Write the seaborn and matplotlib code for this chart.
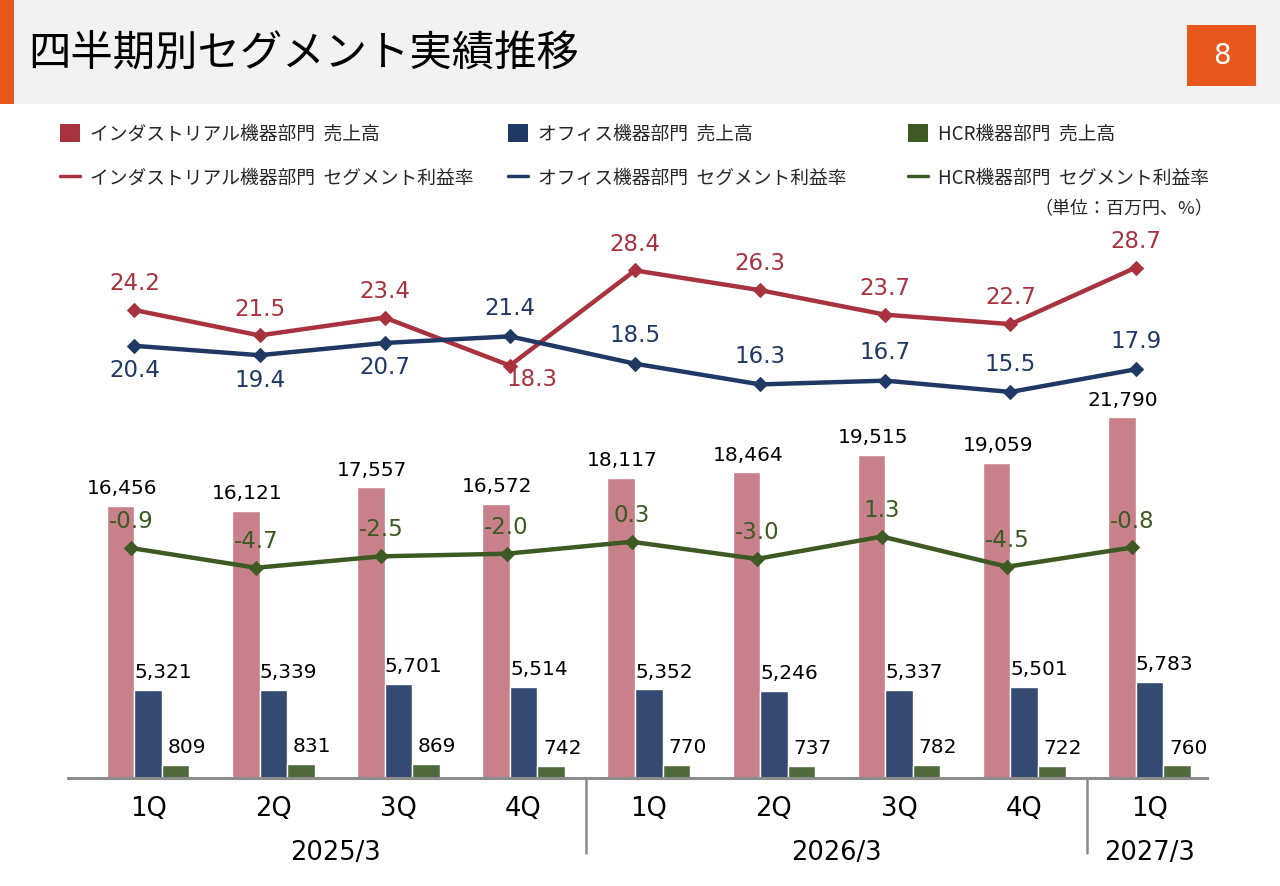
import numpy as np
import pandas as pd
import matplotlib
matplotlib.use("Agg")
import matplotlib.pyplot as plt
import seaborn as sns
from matplotlib.patches import Rectangle, Patch
from matplotlib.lines import Line2D

# データ
quarters = ["1Q", "2Q", "3Q", "4Q", "1Q", "2Q", "3Q", "4Q", "1Q"]
fiscal_years = ["2025/3", "2026/3", "2027/3"]
year_of_quarter = [0, 0, 0, 0, 1, 1, 1, 1, 2]

sales_industrial = [16456, 16121, 17557, 16572, 18117, 18464, 19515, 19059, 21790]
sales_office = [5321, 5339, 5701, 5514, 5352, 5246, 5337, 5501, 5783]
sales_hcr = [809, 831, 869, 742, 770, 737, 782, 722, 760]

margin_industrial = [24.2, 21.5, 23.4, 18.3, 28.4, 26.3, 23.7, 22.7, 28.7]
margin_office = [20.4, 19.4, 20.7, 21.4, 18.5, 16.3, 16.7, 15.5, 17.9]
margin_hcr = [-0.9, -4.7, -2.5, -2.0, 0.3, -3.0, 1.3, -4.5, -0.8]

series_names = ["インダストリアル機器部門", "オフィス機器部門", "HCR機器部門"]

# 色
BAR_COLORS = ["#C8808A", "#344A72", "#4F6B3B"]
LINE_COLORS = ["#A8323E", "#1F3864", "#3C5A22"]
ORANGE = "#E8581C"
NUM_FONT = ["DejaVu Sans"]

sns.set_theme(style="white")
plt.rcParams["font.family"] = ["Noto Sans CJK JP", "DejaVu Sans"]

W, H = 1280, 886
fig = plt.figure(figsize=(W / 100, H / 100), dpi=100)


def fx(px):
    return px / W


def fy(py):
    return 1 - py / H


# ヘッダー
fig.patches.append(Rectangle((0, fy(104)), 1, 104 / H, transform=fig.transFigure,
                             facecolor="#F2F2F2", edgecolor="none", zorder=0))
fig.patches.append(Rectangle((0, fy(104)), fx(14), 104 / H, transform=fig.transFigure,
                             facecolor=ORANGE, edgecolor="none", zorder=1))
fig.patches.append(Rectangle((fx(1187), fy(86)), fx(69), 61 / H, transform=fig.transFigure,
                             facecolor=ORANGE, edgecolor="none", zorder=1))
fig.text(fx(28), fy(55), "四半期別セグメント実績推移", fontsize=30.5, va="center",
         ha="left", color="black")
fig.text(fx(1221.5), fy(56), "8", fontsize=20, va="center", ha="center", color="white",
         family=NUM_FONT)

# 凡例 (3列)
legend_x = [52, 500, 900]
for i, name in enumerate(series_names):
    handles = [Patch(facecolor=LINE_COLORS[i], edgecolor="none"),
               Line2D([0], [0], color=LINE_COLORS[i], lw=2.5)]
    labels = [f"{name}  売上高", f"{name}  セグメント利益率"]
    fig.legend(handles, labels, loc="upper left", bbox_to_anchor=(fx(legend_x[i]), fy(116)),
               frameon=False, fontsize=13.5, handlelength=1.1, handleheight=1.1,
               handletextpad=0.55, labelspacing=1.25, borderaxespad=0)
fig.text(fx(1213), fy(209), "（単位：百万円、%）", fontsize=13, ha="right", va="center")

# 棒グラフ
ax_left, ax_right, ax_top, ax_bot = 68, 1207, 230, 778
ax = fig.add_axes([fx(ax_left), fy(ax_bot), fx(ax_right - ax_left), (ax_bot - ax_top) / H])

bar_df = pd.DataFrame({
    "pos": np.tile(np.arange(len(quarters)), 3),
    "segment": np.repeat(series_names, len(quarters)),
    "sales": sales_industrial + sales_office + sales_hcr,
})
sns.barplot(data=bar_df, x="pos", y="sales", hue="segment", hue_order=series_names,
            palette=BAR_COLORS, width=0.66, gap=0, saturation=1, legend=False, ax=ax)

ax.set_xlim(-0.64, 8.46)
ax.set_ylim(0, 548 / 0.01655)
ax.set_xlabel("")
ax.set_ylabel("")
ax.set_yticks([])
ax.set_xticks([])
for s in ["top", "right", "left"]:
    ax.spines[s].set_visible(False)
ax.spines["bottom"].set_color("#8C8C8C")
ax.spines["bottom"].set_linewidth(2.2)

bw = 0.22
label_dx = [1, 11, 8]
for k, vals in enumerate([sales_industrial, sales_office, sales_hcr]):
    for i, v in enumerate(vals):
        ax.annotate(f"{v:,}", xy=(i + (k - 1) * bw, v), xytext=(label_dx[k], 12.5),
                    textcoords="offset points", ha="center", va="center",
                    fontsize=14.5, color="black", family=NUM_FONT)

# 利益率 (インダストリアル / オフィス)
ax2 = ax.twinx()
ax2.set_ylim(24.2 - (ax_bot - 310) / 9.42, 24.2 + (310 - ax_top) / 9.42)
x_line = np.arange(len(quarters)) - 0.5 * bw
for vals, c in [(margin_industrial, LINE_COLORS[0]), (margin_office, LINE_COLORS[1])]:
    sns.lineplot(x=x_line, y=vals, color=c, lw=3.2, marker="D", markersize=7,
                 markeredgecolor=c, ax=ax2)

# ラベル位置 (上/下)
ind_offsets = [(0, 19)] * 9
ind_offsets[3] = (16, -10)
off_offsets = [(0, -18), (0, -18), (0, -18)] + [(0, 20)] * 6
for i in range(len(quarters)):
    dx, dy = ind_offsets[i]
    ax2.annotate(f"{margin_industrial[i]:.1f}", xy=(x_line[i], margin_industrial[i]),
                 xytext=(dx, dy), textcoords="offset points", ha="center",
                 va="center", fontsize=16.5, color=LINE_COLORS[0], family=NUM_FONT)
    dx, dy = off_offsets[i]
    ax2.annotate(f"{margin_office[i]:.1f}", xy=(x_line[i], margin_office[i]),
                 xytext=(dx, dy), textcoords="offset points", ha="center",
                 va="center", fontsize=16.5, color=LINE_COLORS[1], family=NUM_FONT)

# 利益率 (HCR)
ax3 = ax.twinx()
ax3.set_ylim(-0.9 - (ax_bot - 548) / 5.2, -0.9 + (548 - ax_top) / 5.2)
x_hcr = np.arange(len(quarters)) - 0.62 * bw
sns.lineplot(x=x_hcr, y=margin_hcr, color=LINE_COLORS[2], lw=3.2, marker="D",
             markersize=7, markeredgecolor=LINE_COLORS[2], ax=ax3)
for i, v in enumerate(margin_hcr):
    ax3.annotate(f"{v:.1f}", xy=(x_hcr[i], v), xytext=(0, 19), textcoords="offset points",
                 ha="center", va="center", fontsize=16.5, color=LINE_COLORS[2],
                 family=NUM_FONT)

for a in (ax2, ax3):
    a.set_yticks([])
    a.set_ylabel("")
    for s in a.spines.values():
        s.set_visible(False)
ax.set_xlim(-0.64, 8.46)

# X軸ラベル
for i, q in enumerate(quarters):
    ax.text(i, -0.057, q, transform=ax.get_xaxis_transform(), ha="center", va="center",
            fontsize=18.5, color="black", family=NUM_FONT)
for j, fy_name in enumerate(fiscal_years):
    idx = [i for i, y in enumerate(year_of_quarter) if y == j]
    ax.text(np.mean(idx), -0.137, fy_name, transform=ax.get_xaxis_transform(),
            ha="center", va="center", fontsize=18.5, color="black", family=NUM_FONT)
for b in range(1, len(fiscal_years)):
    first = year_of_quarter.index(b)
    ax.plot([first - 0.5, first - 0.5], [0, -0.137], transform=ax.get_xaxis_transform(),
            color="#8C8C8C", lw=1.8, clip_on=False)

fig.savefig("out.png", dpi=100)
